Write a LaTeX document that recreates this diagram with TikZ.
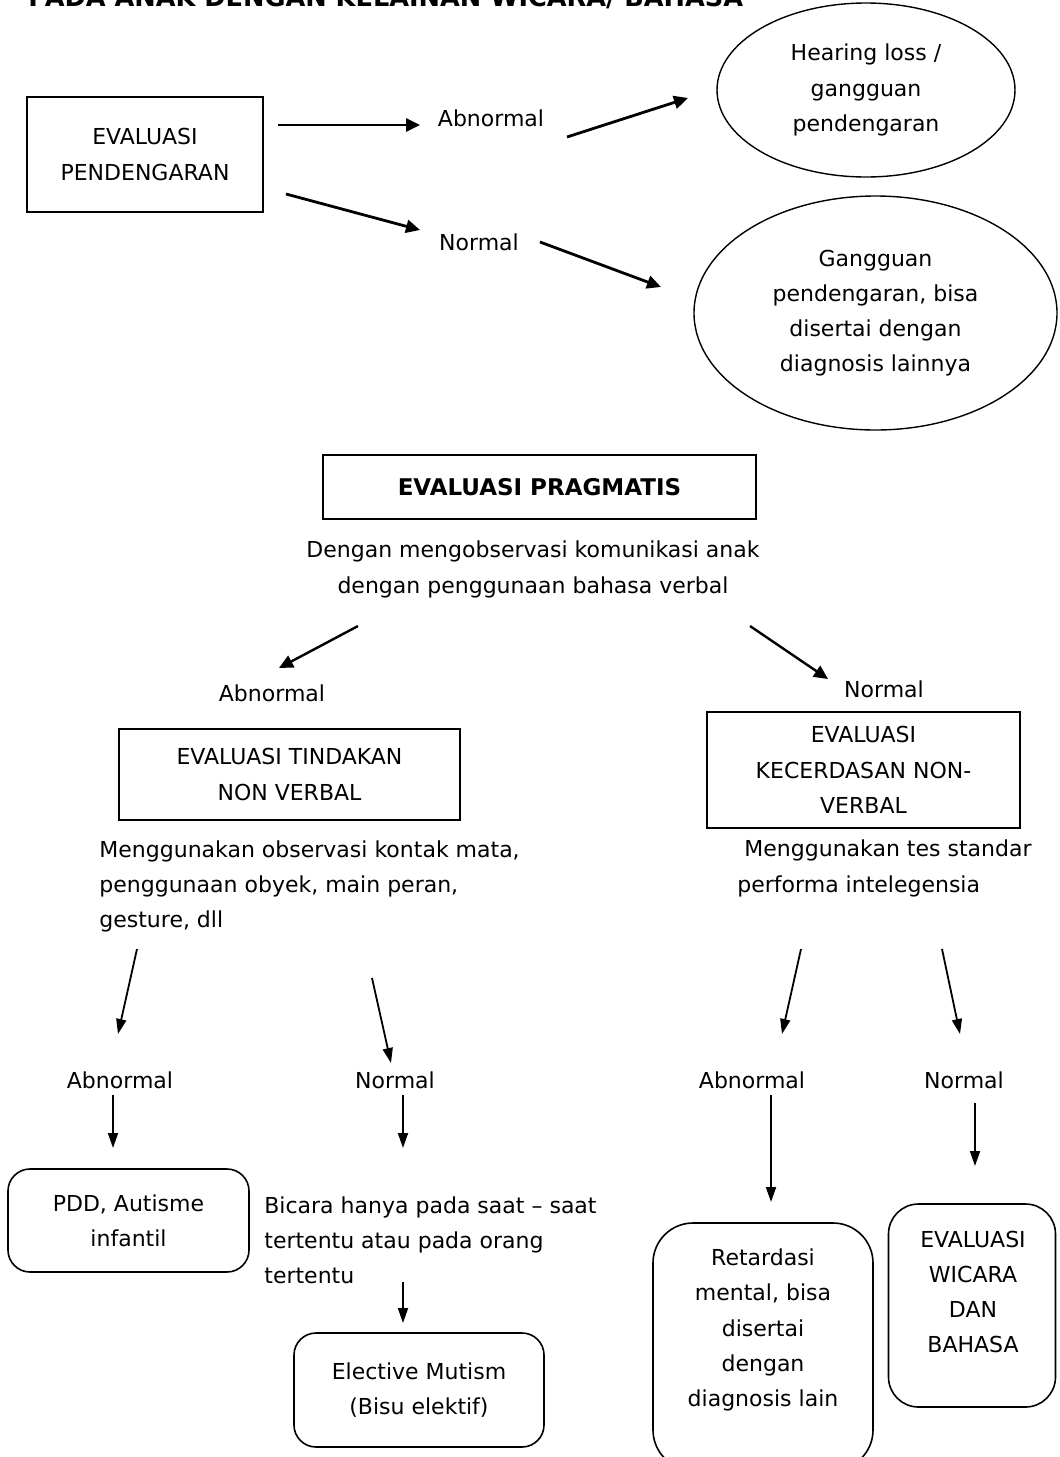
\documentclass[tikz,border=0pt]{standalone}
\usepackage{fontspec}
\setmainfont{DejaVu Sans}
\usetikzlibrary{arrows.meta,shapes.geometric}

\begin{document}
\begin{tikzpicture}[
        % 全域設定:一個單位 = 一個像素
        x=0.5pt, y=-0.5pt,
        font=\fontsize{11}{17.6}\selectfont,
        % 方框樣式:黑框白底
        plain_box/.style={
            draw=black,
            line width=0.8pt,
            align=center,
            inner sep=0pt
        },
        % 圓角方框
        round_box/.style={
            plain_box,
            rounded corners=11pt
        },
        % 橢圓樣式
        oval_box/.style={
            ellipse,
            draw=black,
            line width=0.7pt,
            align=center,
            inner sep=0pt
        },
        % 文字標籤
        text_label/.style={
            inner sep=0pt,
            align=center
        },
        % 粗箭頭
        thick_arrow/.style={
            -{Triangle[length=7pt,width=6.5pt]},
            line width=1.4pt
        },
        % 細箭頭
        thin_arrow/.style={
            -{Triangle[length=7.5pt,width=5pt]},
            line width=0.9pt
        }
    ]
        \useasboundingbox (0,0) rectangle (1060,1457);

        % ==========================
        % 上圖:EVALUASI PENDENGARAN
        % ==========================
        % 1. 標題 (被頁面切掉一半)
        \node[anchor=base west, inner sep=0pt, font=\fontsize{12.8}{15}\selectfont\bfseries] (title) at (28,6) {PADA ANAK DENGAN KELAINAN WICARA/ BAHASA};

        % 2. 方框與橢圓
        \node[plain_box, minimum width=118pt, minimum height=57.5pt] (pend) at (145,154.5) {EVALUASI\\PENDENGARAN};
        \node[text_label] (abn1) at (491,118) {Abnormal};
        \node[text_label] (nor1) at (479,242) {Normal};
        \node[oval_box, minimum width=149pt, minimum height=87pt] (hear) at (866,90) {Hearing loss /\\gangguan\\pendengaran};
        \node[oval_box, minimum width=181.5pt, minimum height=117pt] (gang) at (875.5,313) {Gangguan\\pendengaran, bisa\\disertai dengan\\diagnosis lainnya};

        % 3. 箭頭端點
        \coordinate (a1) at (278,125); \coordinate (b1) at (420,125);
        \coordinate (a2) at (567,137); \coordinate (b2) at (688,98);
        \coordinate (a3) at (286,194); \coordinate (b3) at (420,230);
        \coordinate (a4) at (540,242); \coordinate (b4) at (661,287);
        \foreach \i in {1,...,4} {
            \draw[thick_arrow] (a\i) -- (b\i);
        }

        % ==========================
        % 中圖:EVALUASI PRAGMATIS
        % ==========================
        \node[plain_box, line width=1pt, minimum width=216.5pt, minimum height=32pt, font=\fontsize{11.5}{14}\selectfont\bfseries] (prag) at (539.5,487) {EVALUASI PRAGMATIS};
        \node[text_label] (obs) at (533,569.5) {Dengan mengobservasi komunikasi anak\\dengan penggunaan bahasa verbal};
        \node[text_label] (abn2) at (272,693) {Abnormal};
        \node[text_label] (nor2) at (884,689) {Normal};

        \coordinate (a5) at (358,626); \coordinate (b5) at (279,668);
        \coordinate (a6) at (750,626); \coordinate (b6) at (828,679);
        \foreach \i in {5,6} {
            \draw[thick_arrow, line width=1.2pt] (a\i) -- (b\i);
        }

        \node[plain_box, minimum width=170.5pt, minimum height=45.5pt] (tind) at (289.5,774.5) {EVALUASI TINDAKAN\\NON VERBAL};
        \node[plain_box, minimum width=156.5pt, minimum height=58pt] (cerd) at (863.5,770) {EVALUASI\\KECERDASAN NON-\\VERBAL};
        \node[text_label, align=left, anchor=west] (kontak) at (99,886.5) {Menggunakan observasi kontak mata,\\penggunaan obyek, main peran,\\gesture, dll};
        \node[text_label, align=left, anchor=west] (tes) at (737,868.5) {~Menggunakan tes standar\\performa intelegensia};

        % ==========================
        % 下圖:結果
        % ==========================
        % 1. 標籤
        \node[text_label] (abn3) at (120,1080) {Abnormal};
        \node[text_label] (nor3) at (395,1080) {Normal};
        \node[text_label] (abn4) at (752,1080) {Abnormal};
        \node[text_label] (nor4) at (964,1080) {Normal};

        % 2. 圓角方框
        \node[round_box, minimum width=120.5pt, minimum height=51.5pt] (pdd) at (128.5,1220.5) {PDD, Autisme\\infantil};
        \node[text_label, align=left, anchor=west] (bicara) at (264,1240) {Bicara hanya pada saat – saat\\tertentu atau pada orang\\tertentu};
        \node[round_box, minimum width=125pt, minimum height=57pt] (elect) at (419,1390) {Elective Mutism\\(Bisu elektif)};
        \node[round_box, rounded corners=20pt, minimum width=110pt, minimum height=123.5pt] (ret_box) at (763,1346.5) {};
        \node[text_label] (ret) at (763,1330) {Retardasi\\mental, bisa\\disertai\\dengan\\diagnosis lain};
        \node[round_box, rounded corners=15pt, minimum width=83.5pt, minimum height=101.5pt] (wic_box) at (972,1305.5) {};
        \node[text_label] (wic) at (973,1292) {EVALUASI\\WICARA\\DAN\\BAHASA};

        % 3. 箭頭
        \coordinate (a7) at (137,949);  \coordinate (b7) at (118,1034);
        \coordinate (a8) at (372,978);  \coordinate (b8) at (391,1063);
        \coordinate (a9) at (801,949);  \coordinate (b9) at (782,1034);
        \coordinate (a10) at (942,949); \coordinate (b10) at (960,1034);
        \coordinate (a11) at (113,1095); \coordinate (b11) at (113,1148);
        \coordinate (a12) at (403,1095); \coordinate (b12) at (403,1148);
        \coordinate (a13) at (771,1095); \coordinate (b13) at (771,1202);
        \coordinate (a14) at (975,1103); \coordinate (b14) at (975,1166);
        \coordinate (a15) at (403,1282); \coordinate (b15) at (403,1323);
        \foreach \i in {7,...,15} {
            \draw[thin_arrow] (a\i) -- (b\i);
        }
\end{tikzpicture}
\end{document}
